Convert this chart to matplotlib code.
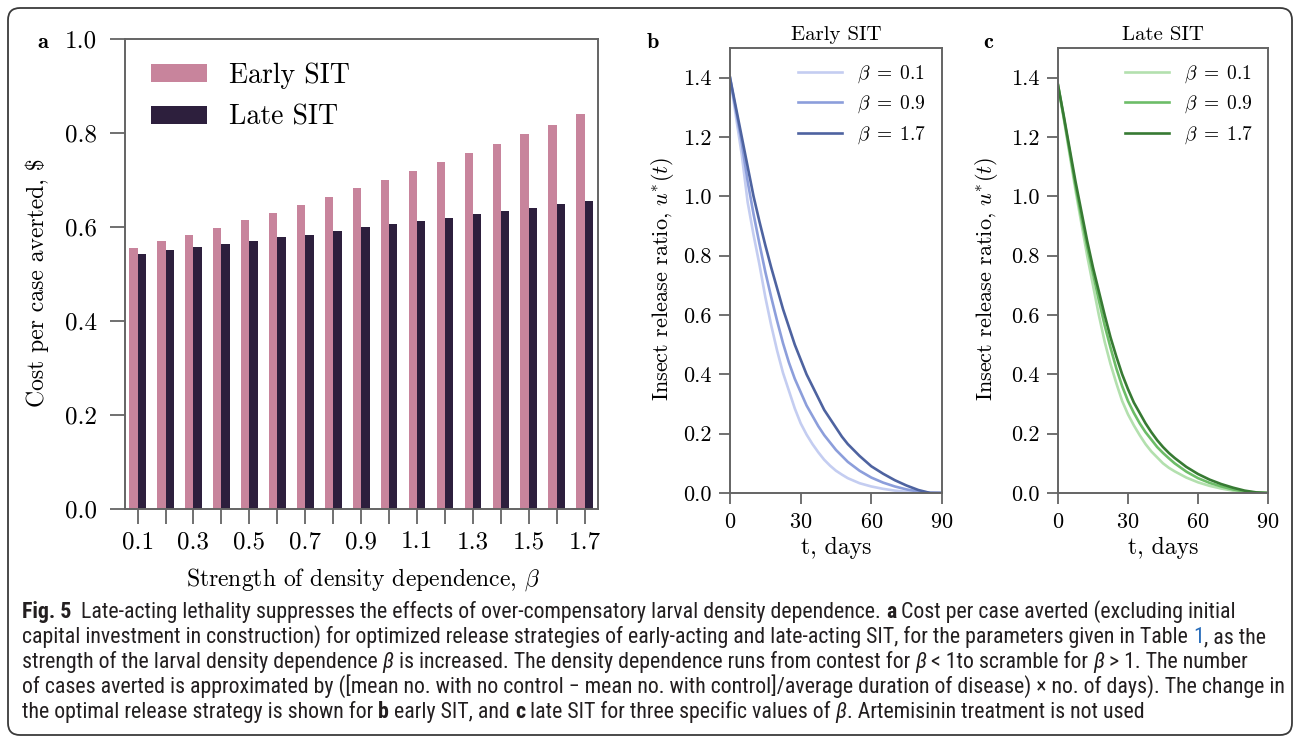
import numpy as np
import matplotlib
matplotlib.use("Agg")
import matplotlib.pyplot as plt
from matplotlib import font_manager
from matplotlib.patches import FancyBboxPatch
from matplotlib.ticker import FormatStrFormatter

# Computer Modern for the panels, like the LaTeX output of the paper
plt.rcParams["font.family"] = "cmr10"
plt.rcParams["mathtext.fontset"] = "cm"
plt.rcParams["axes.unicode_minus"] = False
plt.rcParams["axes.formatter.use_mathtext"] = True

# panel a: cost per case averted vs beta
beta = [0.1, 0.2, 0.3, 0.4, 0.5, 0.6, 0.7, 0.8, 0.9, 1.0, 1.1, 1.2, 1.3, 1.4, 1.5, 1.6, 1.7]
cost_early = [0.555, 0.570, 0.584, 0.598, 0.614, 0.630, 0.647, 0.664, 0.683, 0.701,
              0.720, 0.739, 0.757, 0.777, 0.798, 0.818, 0.840]
cost_late = [0.543, 0.551, 0.558, 0.564, 0.571, 0.578, 0.584, 0.592, 0.599, 0.606,
             0.613, 0.619, 0.627, 0.634, 0.641, 0.648, 0.656]

# panels b, c: optimal release ratio u*(t)
t_days = [0, 2.5, 5, 7.5, 10, 12.5, 15, 17.5, 20, 22.5, 25, 27.5, 30, 32.5, 35, 37.5,
          40, 42.5, 45, 47.5, 50, 55, 60, 65, 70, 75, 80, 85, 90]
beta_shown = ["0.1", "0.9", "1.7"]
early_u = [
    [1.40, 1.27, 1.14, 0.98, 0.87, 0.77, 0.66, 0.565, 0.48, 0.405, 0.345, 0.285, 0.235, 0.197,
     0.165, 0.137, 0.112, 0.092, 0.075, 0.062, 0.050, 0.033, 0.022, 0.014, 0.008, 0.004, 0.002, 0.0, 0.0],
    [1.40, 1.29, 1.18, 1.05, 0.94, 0.84, 0.745, 0.66, 0.58, 0.505, 0.44, 0.385, 0.34, 0.295,
     0.26, 0.225, 0.195, 0.17, 0.145, 0.125, 0.105, 0.075, 0.052, 0.035, 0.022, 0.012, 0.005, 0.001, 0.0],
    [1.40, 1.30, 1.20, 1.10, 1.00, 0.915, 0.835, 0.76, 0.69, 0.62, 0.56, 0.50, 0.45, 0.40,
     0.36, 0.32, 0.28, 0.25, 0.22, 0.19, 0.165, 0.125, 0.090, 0.065, 0.043, 0.025, 0.010, 0.0, 0.0],
]
late_u = [
    [1.375, 1.26, 1.14, 1.02, 0.91, 0.80, 0.70, 0.60, 0.51, 0.435, 0.37, 0.31, 0.265, 0.228,
     0.195, 0.165, 0.14, 0.12, 0.10, 0.085, 0.073, 0.052, 0.036, 0.024, 0.015, 0.008, 0.003, 0.0, 0.0],
    [1.375, 1.265, 1.15, 1.035, 0.93, 0.83, 0.74, 0.65, 0.565, 0.49, 0.42, 0.36, 0.31, 0.27,
     0.235, 0.205, 0.18, 0.155, 0.135, 0.117, 0.10, 0.072, 0.050, 0.034, 0.022, 0.012, 0.005, 0.001, 0.0],
    [1.375, 1.27, 1.16, 1.05, 0.95, 0.85, 0.76, 0.68, 0.60, 0.525, 0.46, 0.40, 0.35, 0.305,
     0.27, 0.235, 0.205, 0.178, 0.155, 0.135, 0.118, 0.088, 0.064, 0.045, 0.030, 0.018, 0.008, 0.002, 0.0],
]

pink, plum = "#c8849c", "#2d1f3d"
blues = ["#c4cdf1", "#8c9edb", "#4e63a0"]
greens = ["#b3e0ae", "#6dbd68", "#377a33"]
spine_col = "#646464"

W, H = 1295, 738
fig = plt.figure(figsize=(W / 100, H / 100), dpi=100)


def box(x0, y0, x1, y1):
    # pixel box (top-left origin) -> figure fraction rect
    return [x0 / W, 1 - y1 / H, (x1 - x0) / W, (y1 - y0) / H]


def ftext(x, y, s, **kw):
    return fig.text(x / W, 1 - y / H, s, **kw)


def style(ax, ticklen, size, xpad, ypad):
    for s in ax.spines.values():
        s.set_color(spine_col)
        s.set_linewidth(1.4)
    ax.tick_params(direction="out", length=ticklen, width=1.3, color=spine_col,
                   labelsize=size)
    ax.tick_params(axis="x", pad=xpad)
    ax.tick_params(axis="y", pad=ypad)


# ---- a ----
ax = fig.add_axes(box(125, 39, 598, 509))
idx = np.arange(len(beta))
ax.bar(idx - 0.15, cost_early, width=0.3, color=pink, label="Early SIT")
ax.bar(idx + 0.15, cost_late, width=0.3, color=plum, label="Late SIT")
ax.set_xlim(-0.45, len(beta) - 0.525)
ax.set_ylim(0, 1.0)
ax.set_xticks(idx)
ax.set_xticklabels([f"{b:.1f}" if i % 2 == 0 else "" for i, b in enumerate(beta)])
ax.set_yticks([0.0, 0.2, 0.4, 0.6, 0.8, 1.0])
ax.yaxis.set_major_formatter(FormatStrFormatter("%.1f"))
style(ax, 11, 18, 5, 9)
ax.legend(loc="upper left", bbox_to_anchor=(0.055, 0.951), frameon=False,
          fontsize=20, borderpad=0, borderaxespad=0, handlelength=2.0,
          handleheight=0.65, handletextpad=0.8, labelspacing=0.58)
ftext(363, 580, r"Strength of density dependence, $\beta$", fontsize=17,
      ha="center", va="center")
ftext(37, 283, "Cost per case averted, $", fontsize=17, rotation=90,
      ha="center", va="center")
ftext(43, 42, "a", family="cmb10", fontsize=16, ha="center", va="center")

# ---- b, c ----
panels = [
    (box(730, 48, 942, 493), early_u, blues, "Early SIT", "b", 653, 662),
    (box(1058, 48, 1268, 493), late_u, greens, "Late SIT", "c", 988, 987),
]
for rect, curves, cols, title, letter, lx, ylx in panels:
    ax = fig.add_axes(rect)
    for u, c, b in zip(curves, cols, beta_shown):
        ax.plot(t_days, u, color=c, lw=1.9, label=rf"$\beta\;=\;{b}$")
    ax.set_xlim(0, 90)
    ax.set_ylim(0, 1.5)
    ax.set_xticks([0, 30, 60, 90])
    ax.set_yticks([0.0, 0.2, 0.4, 0.6, 0.8, 1.0, 1.2, 1.4])
    ax.yaxis.set_major_formatter(FormatStrFormatter("%.1f"))
    style(ax, 8, 16, 6, 5)
    ax.legend(loc="upper left", bbox_to_anchor=(0.32, 0.965), frameon=False,
              fontsize=14, borderpad=0, borderaxespad=0, handlelength=2.27,
              handletextpad=0.75, labelspacing=0.45)
    x0 = rect[0] * W
    xc = x0 + rect[2] * W / 2
    ftext(xc, 35, title, fontsize=15, ha="center", va="center")
    ftext(xc, 548, "t, days", fontsize=17, ha="center", va="center")
    ftext(ylx, 279, r"Insect release ratio, $u^{*}(t)$", fontsize=16,
          rotation=90, ha="center", va="center")
    ftext(lx, 42, letter, family="cmb10", fontsize=16, ha="center", va="center")

# ---- caption ----
have = {f.name for f in font_manager.fontManager.ttflist}
cap_font = next((n for n in ["Liberation Sans Narrow", "DejaVu Sans Condensed",
                             "Roboto Condensed", "Noto Sans", "Liberation Sans"]
                 if n in have), "DejaVu Sans")
cap_col = "#231f20"
link_col = "#2a6ebb"

caption = [
    [("Fig. 5", "b"), ("  Late-acting lethality suppresses the effects of over-compensatory "
                       "larval density dependence. ", "n"), ("a", "b"),
     (" Cost per case averted (excluding initial", "n")],
    [("capital investment in construction) for optimized release strategies of "
      "early-acting and late-acting SIT, for the parameters given in Table ", "n"),
     ("1", "l"), (", as the", "n")],
    [("strength of the larval density dependence ", "n"), ("β", "i"),
     (" is increased. The density dependence runs from contest for ", "n"), ("β", "i"),
     (" < 1to scramble for ", "n"), ("β", "i"), (" > 1. The number", "n")],
    [("of cases averted is approximated by ([mean no. with no control \u2212 mean no. "
      "with control]/average duration of disease) \u00d7 no. of days). The change in", "n")],
    [("the optimal release strategy is shown for ", "n"), ("b", "b"),
     (" early SIT, and ", "n"), ("c", "b"), (" late SIT for three specific values of ", "n"),
     ("β", "i"), (". Artemisinin treatment is not used", "n")],
]

renderer = fig.canvas.get_renderer()


def run_kw(kind, size):
    kw = dict(fontsize=size, family=cap_font, color=cap_col)
    if kind == "b":
        kw["weight"] = "bold"
    elif kind == "i":
        kw["style"] = "italic"
    elif kind == "l":
        kw["color"] = link_col
    return kw


def run_width(s, kind, size):
    # measure with a sentinel so leading/trailing spaces count
    t = fig.text(0, 0, "|" + s + "|", **run_kw(kind, size))
    r = fig.text(0, 0, "||", **run_kw(kind, size))
    w = t.get_window_extent(renderer).width - r.get_window_extent(renderer).width
    t.remove()
    r.remove()
    return w


def line_width(runs, size):
    return sum(run_width(s, k, size) for s, k in runs)


base = 10.0
cap_size = base * (1283 - 22) / line_width(caption[3], base)

for i, runs in enumerate(caption):
    x = 22
    y = 618 + 25 * i
    for s, k in runs:
        ftext(x, y, s, ha="left", va="baseline", **run_kw(k, cap_size))
        x += run_width(s, k, cap_size)

# rounded frame around figure and caption
fig.add_artist(FancyBboxPatch((8, 3), 1284, 727, boxstyle="round,pad=0,rounding_size=12",
                              transform=None, fill=False, edgecolor="#3a3a3a", lw=1.3))

fig.savefig("out.png", dpi=100)
